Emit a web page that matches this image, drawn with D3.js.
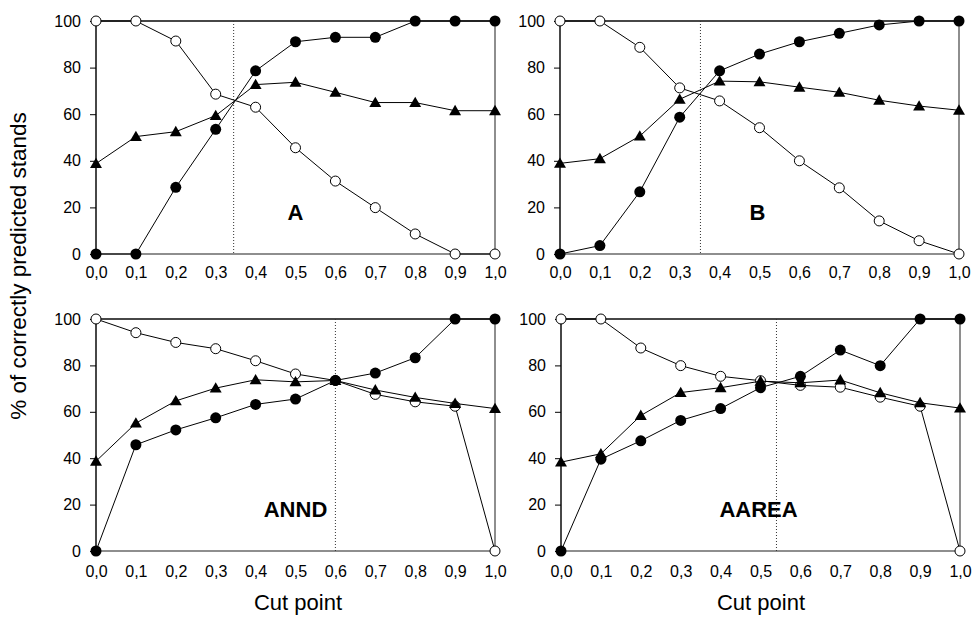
<!DOCTYPE html>
<html>
<head>
<meta charset="utf-8">
<script src="https://cdn.jsdelivr.net/npm/d3@7"></script>
<style>
  body { margin: 0; background: #fff; }
  text { font-family: Arial, "Liberation Sans", sans-serif; }
</style>
</head>
<body>
<div id="container"></div>
<script>
var width = 974, height = 619;

// cut points (x) and y ticks
var cutPoints = [0, 0.1, 0.2, 0.3, 0.4, 0.5, 0.6, 0.7, 0.8, 0.9, 1.0];
var yTicks = [0, 20, 40, 60, 80, 100];

// panel names and dotted line position
var panelNames = ["A", "B", "ANND", "AAREA"];
var cutLines = [0.345, 0.352, 0.6, 0.54];

// open circles
var openA = [100, 100, 91.4, 68.6, 63.0, 45.6, 31.3, 19.9, 8.6, 0, 0];
var openB = [100, 100, 88.7, 71.3, 65.7, 54.2, 40.0, 28.4, 14.2, 5.7, 0];
var openANND = [100, 94.1, 89.9, 87.2, 82.0, 76.3, 73.5, 67.5, 64.3, 62.4, 0];
var openAAREA = [100, 100, 87.5, 79.9, 75.3, 73.4, 71.4, 70.6, 66.3, 62.4, 0];

// filled circles
var filledA = [0, 0, 28.6, 53.5, 78.6, 91.1, 93.0, 93.0, 100, 100, 100];
var filledB = [0, 3.6, 26.7, 58.7, 78.6, 85.8, 91.1, 94.7, 98.3, 100, 100];
var filledANND = [0, 45.8, 52.2, 57.4, 63.2, 65.5, 73.5, 76.7, 83.3, 100, 100];
var filledAAREA = [0, 39.6, 47.5, 56.3, 61.4, 70.4, 75.3, 86.6, 79.9, 100, 100];

// triangles
var triA = [38.8, 50.4, 52.5, 59.4, 72.7, 73.7, 69.4, 65.0, 65.0, 61.5, 61.5];
var triB = [38.9, 40.9, 50.6, 66.4, 74.2, 73.9, 71.6, 69.4, 66.0, 63.5, 61.7];
var triANND = [38.7, 55.1, 64.7, 70.2, 73.8, 72.9, 73.5, 69.4, 66.2, 63.6, 61.4];
var triAAREA = [38.3, 41.9, 58.4, 68.3, 70.4, 73.2, 72.5, 73.7, 68.2, 63.9, 61.6];

var openSeries = [openA, openB, openANND, openAAREA];
var filledSeries = [filledA, filledB, filledANND, filledAAREA];
var triSeries = [triA, triB, triANND, triAAREA];

// plot areas
var boxes = [
  { left: 96, right: 495, top: 21, bottom: 254, pad: 13 },
  { left: 560, right: 959, top: 21, bottom: 254, pad: 13 },
  { left: 96, right: 495, top: 319, bottom: 551, pad: 15 },
  { left: 561, right: 960, top: 319, bottom: 551, pad: 15 }
];

var svg = d3.select("#container")
  .append("svg")
  .attr("width", width)
  .attr("height", height);

var fmt = d3.format(".1f");

boxes.forEach(function(b, i) {
  var x = d3.scaleLinear().domain([0, 1]).range([b.left, b.right]);
  var y = d3.scaleLinear().domain([0, 100]).range([b.bottom, b.top]);
  var g = svg.append("g");

  // frame
  g.append("rect")
    .attr("x", b.left).attr("y", b.top)
    .attr("width", b.right - b.left).attr("height", b.bottom - b.top)
    .attr("fill", "none").attr("stroke", "#444").attr("stroke-width", 1.2);
  g.append("line")
    .attr("x1", b.left).attr("x2", b.right).attr("y1", b.top).attr("y2", b.top)
    .attr("stroke", "#000");
  g.append("line")
    .attr("x1", b.left).attr("x2", b.left).attr("y1", b.top).attr("y2", b.bottom)
    .attr("stroke", "#000");

  // axes
  var ya = g.append("g")
    .attr("transform", "translate(" + b.left + ",0)")
    .call(d3.axisLeft(y).tickValues(yTicks).tickSize(6).tickPadding(9));
  ya.select(".domain").remove();

  var xa = g.append("g")
    .attr("transform", "translate(0," + b.bottom + ")")
    .call(d3.axisBottom(x).tickValues(cutPoints).tickSize(0).tickPadding(b.pad)
      .tickFormat(function(d) { return fmt(d).replace(".", ","); }));
  xa.select(".domain").remove();

  g.selectAll(".tick text")
    .attr("font-size", 16)
    .attr("font-family", "Arial, 'Liberation Sans', sans-serif")
    .attr("fill", "#000");
  g.selectAll(".tick line").attr("stroke", "#000");

  // dotted cut line
  g.append("line")
    .attr("x1", x(cutLines[i])).attr("x2", x(cutLines[i]))
    .attr("y1", b.top).attr("y2", b.bottom)
    .attr("stroke", "#333").attr("stroke-width", 1)
    .attr("stroke-dasharray", "1,2");

  // panel name
  g.append("text")
    .attr("x", (b.left + b.right) / 2 - i % 2 * 2)
    .attr("y", b.bottom - 34)
    .attr("text-anchor", "middle")
    .attr("font-size", 22)
    .attr("font-weight", "bold")
    .text(panelNames[i]);

  var line = d3.line()
    .x(function(d, k) { return x(cutPoints[k]); })
    .y(function(d) { return y(d); });

  // open circles
  g.append("path").attr("d", line(openSeries[i]))
    .attr("fill", "none").attr("stroke", "#000").attr("stroke-width", 1);
  g.selectAll(".open").data(openSeries[i]).enter()
    .append("circle")
    .attr("cx", function(d, k) { return x(cutPoints[k]); })
    .attr("cy", function(d) { return y(d); })
    .attr("r", 5)
    .attr("fill", "#fff").attr("stroke", "#000").attr("stroke-width", 1);

  // triangles
  g.append("path").attr("d", line(triSeries[i]))
    .attr("fill", "none").attr("stroke", "#000").attr("stroke-width", 1);
  g.selectAll(".tri").data(triSeries[i]).enter()
    .append("path")
    .attr("d", d3.symbol().type(d3.symbolTriangle).size(62))
    .attr("transform", function(d, k) {
      return "translate(" + x(cutPoints[k]) + "," + (y(d) + 1) + ")";
    })
    .attr("fill", "#000");

  // filled circles
  g.append("path").attr("d", line(filledSeries[i]))
    .attr("fill", "none").attr("stroke", "#000").attr("stroke-width", 1);
  g.selectAll(".filled").data(filledSeries[i]).enter()
    .append("circle")
    .attr("cx", function(d, k) { return x(cutPoints[k]); })
    .attr("cy", function(d) { return y(d); })
    .attr("r", 5.5)
    .attr("fill", "#000");
});

// axis titles
svg.append("text")
  .attr("transform", "translate(26,266) rotate(-90)")
  .attr("text-anchor", "middle")
  .attr("font-size", 22.5)
  .text("% of correctly predicted stands");

svg.append("text")
  .attr("x", 298).attr("y", 610)
  .attr("text-anchor", "middle")
  .attr("font-size", 22)
  .text("Cut point");

svg.append("text")
  .attr("x", 761).attr("y", 610)
  .attr("text-anchor", "middle")
  .attr("font-size", 22)
  .text("Cut point");
</script>
</body>
</html>
